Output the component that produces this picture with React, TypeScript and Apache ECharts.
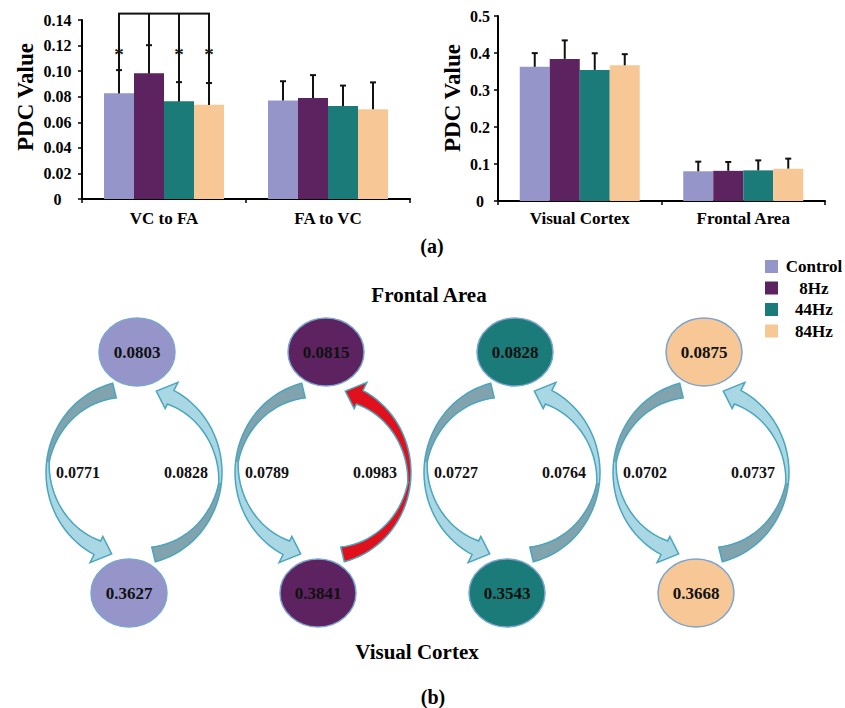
import React, { useEffect, useRef } from 'react';
import * as echarts from 'echarts';

// ---------- data ----------
const conditions = ['Control', '8Hz', '44Hz', '84Hz'];
const connectionGroups = ['VC to FA', 'FA to VC'];
const regionGroups = ['Visual Cortex', 'Frontal Area'];

// (a) left: PDC between regions
const vcToFa = [0.0828, 0.0983, 0.0764, 0.0737];
const vcToFaErr = [0.018, 0.022, 0.015, 0.017];
const faToVc = [0.0771, 0.0789, 0.0727, 0.0702];
const faToVcErr = [0.015, 0.018, 0.016, 0.021];
const vcToFaStar = [true, false, true, true];
const bracketLevel = 0.145;
const starLevel = 0.1165;

// (a) right: PDC within regions
const visualCortex = [0.3627, 0.3841, 0.3543, 0.3668];
const visualCortexErr = [0.037, 0.05, 0.045, 0.03];
const frontalArea = [0.0803, 0.0815, 0.0828, 0.0875];
const frontalAreaErr = [0.026, 0.024, 0.027, 0.027];

// (b) highlighted connection
const vcToFaHighlight = [false, true, false, false];

// ---------- style ----------
const colors = ['#9595c9', '#5c2360', '#1b7b78', '#f7c796'];
const FONT = "'Liberation Serif', 'Times New Roman', serif";
const BAR_W = 30;

const axisText = { fontFamily: FONT, fontWeight: 'bold' as const, fontSize: 16, color: '#000' };

function errorSeries(grid: number, groups: number[][], errs: number[][]) {
  const data: number[][] = [];
  groups.forEach((vals, c) => vals.forEach((v, k) => data.push([c, k, v, errs[c][k]])));
  return {
    type: 'custom',
    xAxisIndex: grid,
    yAxisIndex: grid,
    z: 5,
    data,
    renderItem: (params: any, api: any) => {
      const c = api.value(0), k = api.value(1), v = api.value(2), e = api.value(3);
      const base = api.coord([c, v]);
      const top = api.coord([c, v + e]);
      const x = base[0] + (k - 1.5) * BAR_W;
      const st = { stroke: '#111', lineWidth: 2 };
      return {
        type: 'group',
        children: [
          { type: 'line', shape: { x1: x, y1: base[1], x2: x, y2: top[1] }, style: st },
          { type: 'line', shape: { x1: x - 3, y1: top[1], x2: x + 3, y2: top[1] }, style: st },
        ],
      };
    },
  };
}

const RX = 88, RY = 92;
const PHI_TAIL = 256, PHI_BASE = 117, PHI_TIP = 106;
function arrowShape(cx: number, cy: number, flip: boolean) {
  const P = (deg: number, r: number) => {
    const a = (deg * Math.PI) / 180;
    let x = RX * r * Math.cos(a), y = RY * r * Math.sin(a);
    if (flip) { x = -x; y = -y; }
    return [cx + x, cy + y];
  };
  const N = 40;
  const outer: number[][] = [], inner: number[][] = [];
  for (let i = 0; i <= N; i++) {
    const t = i / N;
    const phi = PHI_TAIL + (PHI_BASE - PHI_TAIL) * t;
    const w = 0.03 + 0.135 * Math.pow(Math.abs(1 - 2 * t), 1.1);
    outer.push(P(phi, 1));
    inner.push(P(phi, 1 - w));
  }
  const half = N / 2;
  const head = [P(PHI_BASE, 1.1), P(PHI_TIP, 0.92), P(PHI_BASE, 0.78)];
  const dark = [...outer.slice(0, half + 1), ...inner.slice(0, half + 1).reverse()];
  const light = [...outer.slice(half), ...head, ...inner.slice(half).reverse()];
  const outline = [...outer, ...head, ...inner.slice().reverse()];
  return { dark, light, outline };
}

const edgeData: number[][] = [];
conditions.forEach((_, k) => {
  edgeData.push([k, 0, faToVc[k], 0]);
  edgeData.push([k, 1, vcToFa[k], vcToFaHighlight[k] ? 1 : 0]);
});
const nodeData: number[][] = [];
conditions.forEach((_, k) => {
  nodeData.push([k, 1, frontalArea[k]]);
  nodeData.push([k, 0, visualCortex[k]]);
});

const sigData = conditions.map((_, k) => [0, k, vcToFa[k], vcToFaStar[k] ? 1 : 0]);

const option: any = {
  animation: false,
  backgroundColor: '#fff',
  grid: [
    { left: 82, right: 435, top: 20, bottom: 509 },
    { left: 498, right: 20, top: 16, bottom: 507 },
    { left: 39.5, right: 49.5, top: 352, bottom: 115 },
  ],
  legend: {
    orient: 'vertical',
    left: 765,
    top: 258,
    padding: 0,
    icon: 'rect',
    itemWidth: 13,
    itemHeight: 13,
    itemGap: 4.5,
    selectedMode: false,
    data: conditions,
    formatter: '{a|{name}}',
    textStyle: {
      rich: { a: { width: 62, align: 'center', fontFamily: FONT, fontWeight: 'bold', fontSize: 17, color: '#000', lineHeight: 17 } },
    },
  },
  xAxis: [
    {
      gridIndex: 0, type: 'category', data: connectionGroups,
      axisLine: { lineStyle: { color: '#000', width: 2 } },
      axisTick: { show: true, length: 4, lineStyle: { color: '#000', width: 1.5 } },
      axisLabel: { ...axisText, fontSize: 17, margin: 11 },
    },
    {
      gridIndex: 1, type: 'category', data: regionGroups,
      axisLine: { lineStyle: { color: '#000', width: 2 } },
      axisTick: { show: true, length: 4, lineStyle: { color: '#000', width: 1.5 } },
      axisLabel: { ...axisText, fontSize: 17, margin: 9 },
    },
    { gridIndex: 2, type: 'category', data: conditions, show: false },
  ],
  yAxis: [
    {
      gridIndex: 0, type: 'value', min: 0, max: 0.14, interval: 0.02,
      axisLine: { show: true, lineStyle: { color: '#000', width: 2 } },
      axisTick: { show: true, length: 4, lineStyle: { color: '#000', width: 1.5 } },
      splitLine: { show: false },
      axisLabel: { ...axisText, align: 'center', margin: 24.5, formatter: (v: number) => (v === 0 ? '0' : v.toFixed(2)) },
    },
    {
      gridIndex: 1, type: 'value', min: 0, max: 0.5, interval: 0.1,
      axisLine: { show: true, lineStyle: { color: '#000', width: 2 } },
      axisTick: { show: true, length: 4, lineStyle: { color: '#000', width: 1.5 } },
      splitLine: { show: false },
      axisLabel: { ...axisText, align: 'center', margin: 18, formatter: (v: number) => (v === 0 ? '0' : v.toFixed(1)) },
    },
    { gridIndex: 2, type: 'value', min: 0, max: 1, show: false },
  ],
  graphic: [
    { type: 'text', x: 25, y: 97, rotation: Math.PI / 2, style: { text: 'PDC Value', font: `bold 23px ${FONT}`, fill: '#000', align: 'center', verticalAlign: 'middle' } },
    { type: 'text', x: 452, y: 98, rotation: Math.PI / 2, style: { text: 'PDC Value', font: `bold 23px ${FONT}`, fill: '#000', align: 'center', verticalAlign: 'middle' } },
    { type: 'text', x: 432, y: 246, style: { text: '(a)', font: `bold 20px ${FONT}`, fill: '#000', align: 'center', verticalAlign: 'middle' } },
    { type: 'text', x: 429, y: 295, style: { text: 'Frontal Area', font: `bold 21px ${FONT}`, fill: '#000', align: 'center', verticalAlign: 'middle' } },
    { type: 'text', x: 417, y: 652, style: { text: 'Visual Cortex', font: `bold 21px ${FONT}`, fill: '#000', align: 'center', verticalAlign: 'middle' } },
    { type: 'text', x: 433, y: 697, style: { text: '(b)', font: `bold 20px ${FONT}`, fill: '#000', align: 'center', verticalAlign: 'middle' } },
  ],
  series: [
    ...conditions.map((name, k) => ({
      type: 'bar', name, xAxisIndex: 0, yAxisIndex: 0, barWidth: BAR_W, barGap: '0%',
      itemStyle: { color: colors[k] }, data: [vcToFa[k], faToVc[k]],
    })),
    ...conditions.map((name, k) => ({
      type: 'bar', name, xAxisIndex: 1, yAxisIndex: 1, barWidth: BAR_W, barGap: '0%',
      itemStyle: { color: colors[k] }, data: [visualCortex[k], frontalArea[k]],
    })),
    errorSeries(0, [vcToFa, faToVc], [vcToFaErr, faToVcErr]),
    errorSeries(1, [visualCortex, frontalArea], [visualCortexErr, frontalAreaErr]),
    {
      type: 'custom', xAxisIndex: 0, yAxisIndex: 0, z: 6, data: sigData,
      renderItem: (params: any, api: any) => {
        const c = api.value(0), k = api.value(1), v = api.value(2), star = api.value(3);
        const base = api.coord([c, v]);
        const top = api.coord([c, bracketLevel]);
        const s = api.coord([c, starLevel]);
        const x = base[0] + (k - 1.5) * BAR_W;
        const st = { stroke: '#111', lineWidth: 2 };
        const children: any[] = [
          { type: 'line', shape: { x1: x, y1: base[1], x2: x, y2: top[1] }, style: st },
        ];
        if (k < 3) children.push({ type: 'line', shape: { x1: x - (k === 0 ? 1 : 0), y1: top[1], x2: x + BAR_W + (k === 2 ? 1 : 0), y2: top[1] }, style: st });
        if (star) children.push({ type: 'text', x, y: s[1] + 4, style: { text: '*', font: `bold 19px ${FONT}`, fill: '#111', align: 'center', verticalAlign: 'middle' } });
        return { type: 'group', children };
      },
    },
    {
      type: 'custom', xAxisIndex: 2, yAxisIndex: 2, z: 2, data: edgeData,
      renderItem: (params: any, api: any) => {
        const k = api.value(0), dir = api.value(1), v = api.value(2), hl = api.value(3);
        const c = api.coord([k, 0.5]);
        const sh = arrowShape(c[0], c[1], dir === 1);
        const darkFill = hl ? '#e0111c' : '#80a3ad';
        const lightFill = hl ? '#e0111c' : '#a9d7e3';
        return {
          type: 'group',
          children: [
            { type: 'polygon', shape: { points: sh.dark }, style: { fill: darkFill } },
            { type: 'polygon', shape: { points: sh.light }, style: { fill: lightFill } },
            { type: 'polygon', shape: { points: sh.outline }, style: { fill: 'none', stroke: '#4aa5bf', lineWidth: 1.5 } },
            { type: 'text', x: c[0] + (dir === 1 ? 52 : -56), y: c[1], style: { text: v.toFixed(4), font: `bold 16px ${FONT}`, fill: '#111', align: 'center', verticalAlign: 'middle' } },
          ],
        };
      },
    },
    {
      type: 'custom', xAxisIndex: 2, yAxisIndex: 2, z: 3, data: nodeData,
      renderItem: (params: any, api: any) => {
        const k = api.value(0), row = api.value(1), v = api.value(2);
        const c = api.coord([k, row]);
        const x = c[0] + (row === 1 ? 3 : -5);
        const y = c[1];
        const rx = 38, ry = 34;
        const d = `M${x - rx},${y} A${rx},${ry} 0 1 0 ${x + rx},${y} A${rx},${ry} 0 1 0 ${x - rx},${y} Z`;
        return {
          type: 'group',
          children: [
            { type: 'path', shape: { pathData: d }, style: { fill: colors[k], stroke: '#7aa5d0', lineWidth: 1.5 } },
            { type: 'text', x, y, style: { text: v.toFixed(4), font: `bold 17px ${FONT}`, fill: '#111', align: 'center', verticalAlign: 'middle' } },
          ],
        };
      },
    },
  ],
};

export default function App() {
  const ref = useRef<HTMLDivElement>(null);
  useEffect(() => {
    const chart = echarts.init(ref.current!, undefined, { renderer: 'svg' });
    chart.setOption(option);
    return () => chart.dispose();
  }, []);
  return <div ref={ref} style={{ position: 'absolute', left: 0, top: 0, width: 845, height: 708, background: '#fff' }} />;
}
